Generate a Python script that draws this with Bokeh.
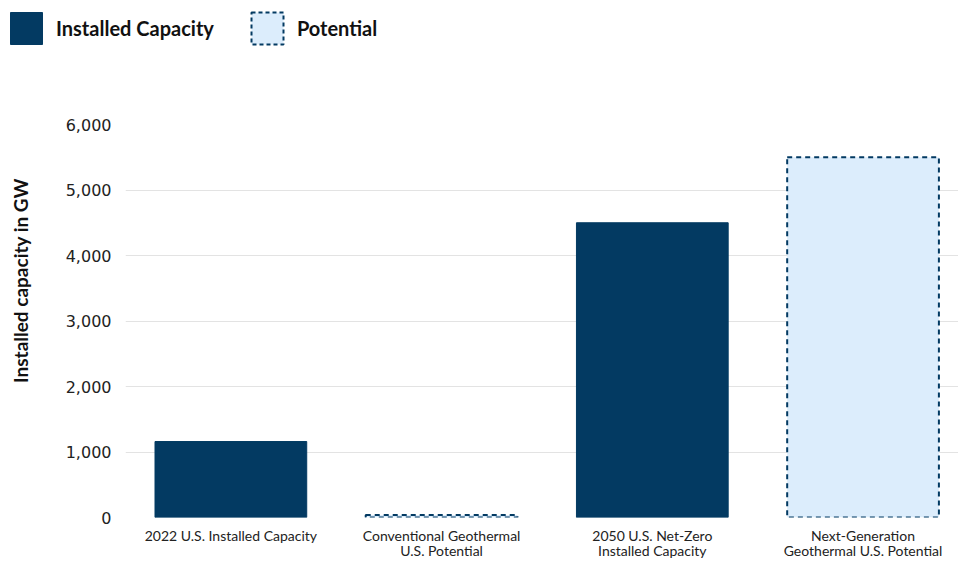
from bokeh.plotting import figure
from bokeh.layouts import column, row
from bokeh.models import (Range1d, FixedTicker, NumeralTickFormatter, Legend,
                          LegendItem, Label, ColumnDataSource)
from bokeh.embed import file_html
from bokeh.resources import INLINE

categories = ["2022 U.S. Installed Capacity",
              "Conventional Geothermal\nU.S. Potential",
              "2050 U.S. Net-Zero\nInstalled Capacity",
              "Next-Generation\nGeothermal U.S. Potential"]
values = [1160, 40, 4500, 5500]
kinds = ["Installed Capacity", "Potential", "Installed Capacity", "Potential"]
legend_labels = ["Installed Capacity", "Potential"]
y_ticks = [0, 1000, 2000, 3000, 4000, 5000, 6000]
y_title = "Installed capacity in GW"

NAVY = "#033a62"
LIGHT = "#dcedfc"

xs = list(range(len(categories)))
inst = ColumnDataSource(dict(x=[x for x, k in zip(xs, kinds) if k == legend_labels[0]],
                             top=[v for v, k in zip(values, kinds) if k == legend_labels[0]]))
pot = ColumnDataSource(dict(x=[x for x, k in zip(xs, kinds) if k == legend_labels[1]],
                            top=[v for v, k in zip(values, kinds) if k == legend_labels[1]]))

# ---------- legend strip ----------
TOP_H = 60
leg_fig = figure(width=958, height=TOP_H, output_backend="svg", toolbar_location=None,
                 x_axis_type=None, y_axis_type=None, x_range=Range1d(0, 1), y_range=Range1d(0, 1),
                 min_border=0)
leg_fig.outline_line_color = None
leg_fig.grid.grid_line_color = None
lr1 = leg_fig.vbar(x="x", top="top", width=0.72, source=inst,
                   fill_color=NAVY, line_color=NAVY, line_width=1, visible=False)
lr2 = leg_fig.vbar(x="x", top="top", width=0.72, source=pot,
                   fill_color=LIGHT, line_color=NAVY, line_width=2, line_dash="4 3",
                   visible=False)
legend = Legend(items=[LegendItem(label=legend_labels[0], renderers=[lr1]),
                       LegendItem(label=legend_labels[1], renderers=[lr2])],
                orientation="horizontal", location=(6, 12),
                glyph_width=40, glyph_height=40, label_standoff=10, spacing=33,
                padding=6, margin=0, border_line_color=None,
                background_fill_alpha=0,
                label_text_font="Lato", label_text_font_style="bold",
                label_text_font_size="20px", label_text_color="#111111")
leg_fig.add_layout(legend, "center")

# ---------- y title strip ----------
MAIN_H = 561 - TOP_H
TITLE_W = 35
title_fig = figure(width=TITLE_W, height=MAIN_H, output_backend="svg", toolbar_location=None,
                   x_axis_type=None, y_axis_type=None, x_range=Range1d(0, 1),
                   y_range=Range1d(0, 1), min_border=0)
title_fig.outline_line_color = None
title_fig.grid.grid_line_color = None
title_fig.add_layout(Label(x=20, y=281, x_units="screen", y_units="screen",
                           text=y_title, angle=90, angle_units="deg",
                           text_font="Lato", text_font_style="bold",
                           text_font_size="19px", text_color="#111111",
                           text_align="center", text_baseline="middle"))

# ---------- main chart ----------
fig = figure(width=958 - TITLE_W, height=MAIN_H, output_backend="svg", toolbar_location=None,
             x_range=Range1d(-0.5, 3.453), y_range=Range1d(0, 6000),
             min_border_left=125 - TITLE_W, min_border_right=0, min_border_top=124 - TOP_H,
             min_border_bottom=44)
fig.outline_line_color = None
fig.background_fill_color = "white"

fig.vbar(x="x", top="top", bottom=0, width=0.72, source=inst,
         fill_color=NAVY, line_color=NAVY, line_width=1)
fig.vbar(x="x", top="top", bottom=0, width=0.72, source=pot,
         fill_color=LIGHT, line_color=NAVY, line_width=2, line_dash="5 4")

fig.xaxis.ticker = FixedTicker(ticks=xs)
fig.xaxis.major_label_overrides = {i: c for i, c in enumerate(categories)}
fig.xaxis.axis_line_color = None
fig.xaxis.major_tick_line_color = None
fig.xaxis.minor_tick_line_color = None
fig.xaxis.major_tick_out = 0
fig.xaxis.major_tick_in = 0
fig.xaxis.major_label_text_font = "Lato"
fig.xaxis.major_label_text_font_size = "14px"
fig.xaxis.major_label_text_color = "#222222"
fig.xaxis.major_label_text_line_height = 0.9
fig.xaxis.major_label_standoff = 9
fig.xgrid.grid_line_color = None

fig.yaxis.ticker = FixedTicker(ticks=y_ticks)
fig.yaxis.formatter = NumeralTickFormatter(format="0,0")
fig.yaxis.axis_line_color = None
fig.yaxis.major_tick_line_color = None
fig.yaxis.minor_tick_line_color = None
fig.yaxis.major_tick_out = 0
fig.yaxis.major_tick_in = 0
fig.yaxis.major_label_text_font = "DejaVu Sans"
fig.yaxis.major_label_text_font_size = "16px"
fig.yaxis.major_label_text_color = "#222222"
fig.yaxis.major_label_standoff = 14
fig.ygrid.grid_line_color = "#e3e3e3"
fig.ygrid.grid_line_width = 1

p = column(row(leg_fig), row(column(title_fig), fig, spacing=0), spacing=0)

open("out.html", "w").write(file_html(p, INLINE))
